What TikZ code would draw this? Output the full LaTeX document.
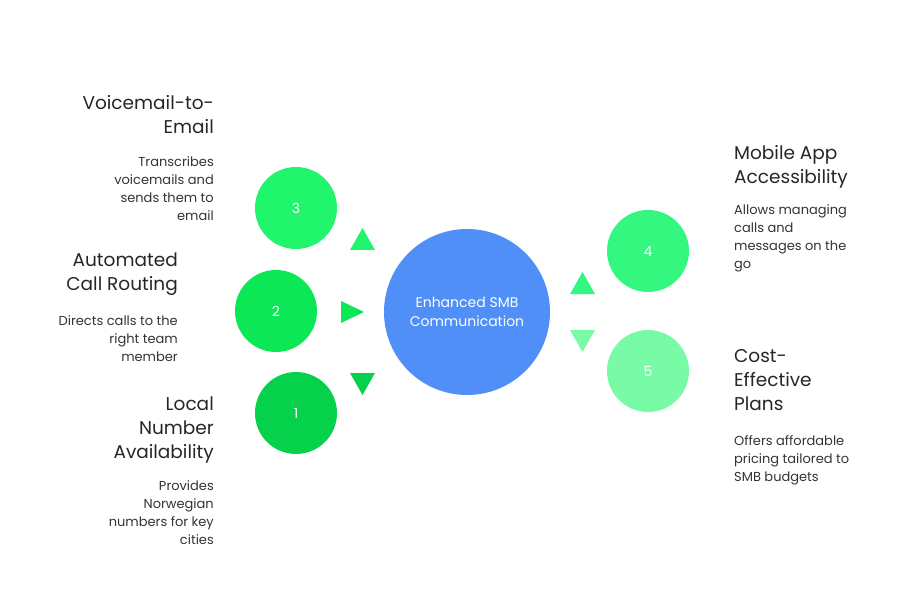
\documentclass[tikz,border=0pt]{standalone}
\usepackage{fontspec}
\setmainfont{Poppins}
\begin{document}
\begin{tikzpicture}[x=1pt,y=-1pt,
 circ/.style={circle,draw=none,inner sep=0pt,minimum size=#1,text=white},
 ttl/.style={align=right,anchor=north east,font=\fontsize{18.5}{24}\selectfont,text=black!85,inner sep=0pt},
 ttlL/.style={align=left,anchor=north west,font=\fontsize{18.5}{24}\selectfont,text=black!85,inner sep=0pt},
 dsc/.style={align=right,anchor=north east,font=\fontsize{13}{18}\selectfont,text=black!80,inner sep=0pt},
 dscL/.style={align=left,anchor=north west,font=\fontsize{13}{18}\selectfont,text=black!80,inner sep=0pt}]
\definecolor{cb}{HTML}{4F8FF7}
\definecolor{g3}{HTML}{21F56B}
\definecolor{g2}{HTML}{0CE855}
\definecolor{g1}{HTML}{06D14B}
\definecolor{g4}{HTML}{33F77F}
\definecolor{g5}{HTML}{78FAA6}
\useasboundingbox (0,0) rectangle (912,612);
\node[circ=166pt,fill=cb,font=\fontsize{14}{19}\selectfont,align=center] (c) at (467,312) {Enhanced SMB\\Communication};
\node[circ=82pt,fill=g3,font=\fontsize{14}{16}\selectfont] (n3) at (296,208) {3};
\node[circ=82pt,fill=g2,font=\fontsize{14}{16}\selectfont] (n2) at (276,311) {2};
\node[circ=82pt,fill=g1,font=\fontsize{14}{16}\selectfont] (n1) at (296,413) {1};
\node[circ=82pt,fill=g4,font=\fontsize{14}{16}\selectfont] (n4) at (648,251) {4};
\node[circ=82pt,fill=g5,font=\fontsize{14}{16}\selectfont] (n5) at (648,371) {5};
\fill[g3] (350,250) -- (375,250) -- (362.5,228) -- cycle;
\fill[g2] (341,301) -- (341,323) -- (364,312) -- cycle;
\fill[g1] (350,373) -- (375,373) -- (362.5,395) -- cycle;
\fill[g4] (570,294) -- (595,294) -- (582.5,272) -- cycle;
\fill[g5] (570,330) -- (595,330) -- (582.5,352) -- cycle;
\node[ttl] (t3) at (214,95) {Voicemail-to-\\Email};
\node[dsc] (d3) at (214,156) {Transcribes\\voicemails and\\sends them to\\email};
\node[ttl] (t2) at (178,253) {Automated\\Call Routing};
\node[dsc] (d2) at (178,315) {Directs calls to the\\right team\\member};
\node[ttl] (t1) at (214,397) {Local\\Number\\Availability};
\node[dsc] (d1) at (214,480) {Provides\\Norwegian\\numbers for key\\cities};
\node[ttlL] (t4) at (734,145) {Mobile App\\Accessibility};
\node[dscL] (d4) at (734,204) {Allows managing\\calls and\\messages on the\\go};
\node[ttlL] (t5) at (734,349) {Cost-\\Effective\\Plans};
\node[dscL] (d5) at (734,435) {Offers affordable\\pricing tailored to\\SMB budgets};
\end{tikzpicture}
\end{document}
